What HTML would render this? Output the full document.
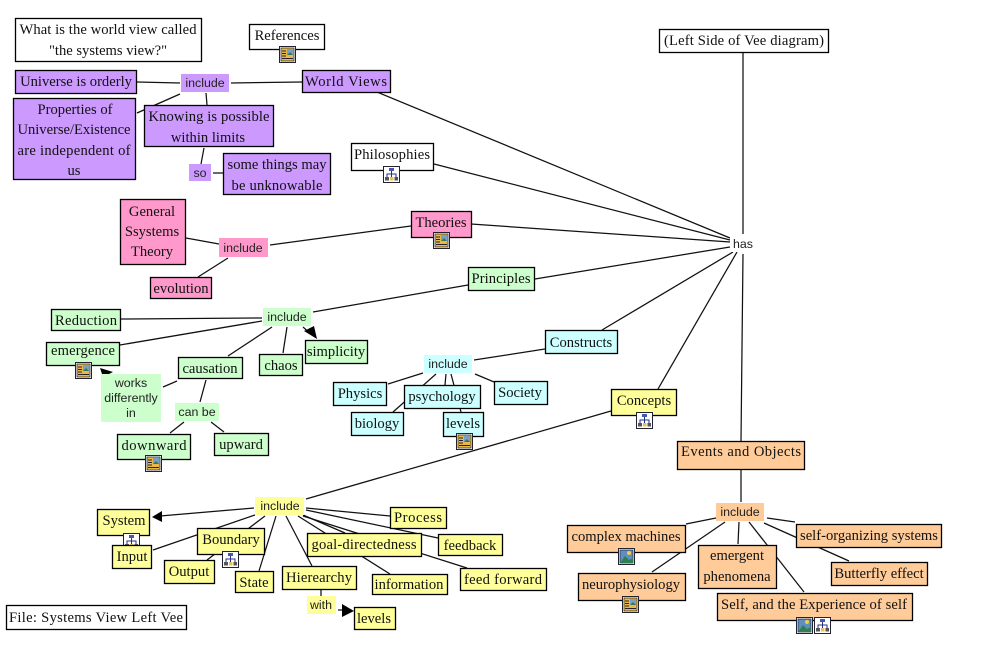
<!DOCTYPE html>
<html><head><meta charset="utf-8"><title>Systems View Left Vee</title>
<style>
html,body{margin:0;padding:0;background:#fff}
svg{display:block}
.l line{stroke:#111;stroke-width:1.25}
.n rect{stroke:#000;stroke-width:1.3}
.k rect{stroke:none}
text{font-family:"Liberation Serif",serif;font-size:14.6px;fill:#111;text-anchor:middle}
.s text{font-family:"Liberation Sans",sans-serif;font-size:12.4px;fill:#222}
.a polygon{fill:#000}
</style></head><body>
<svg width="982" height="670" viewBox="0 0 982 670" xmlns="http://www.w3.org/2000/svg">
<defs>
<g id="doc"><rect x=".5" y=".5" width="16" height="16" fill="#fff" stroke="#223"/><rect x="2" y="2" width="13" height="13" fill="#e8b848" stroke="#222" stroke-width=".7"/><rect x="8" y="3" width="6" height="6" fill="#7aa0c8"/><path d="M8 9l3-3 3 3z" fill="#3a7a50"/><path d="M3 5h4M3 7.500h4M3 10h4M3 12.500h11" stroke="#223" stroke-width="1"/></g>
<g id="pic"><rect x=".5" y=".5" width="16" height="16" fill="#fff" stroke="#223"/><rect x="2" y="2" width="13" height="13" fill="#5f8fc0" stroke="#223" stroke-width=".7"/><circle cx="11" cy="5" r="2" fill="#f0d040"/><path d="M2 15l5-7 4 4 4-2v5z" fill="#2f8050"/></g>
<g id="map"><rect x=".5" y=".5" width="16" height="16" fill="#fff" stroke="#223"/><path d="M8.500 5v3M4 12V8h9v4M8.500 8v4" stroke="#23308a" fill="none"/><rect x="6" y="2" width="5" height="3" fill="#4458b0"/><rect x="2" y="11" width="4" height="3.500" fill="#555"/><rect x="7" y="11" width="3.500" height="3.500" fill="#e8c050"/><rect x="11.500" y="11" width="3.500" height="3.500" fill="#555"/></g>
</defs>

<g class="l">
<line x1="137" y1="82" x2="180" y2="83"/><line x1="231" y1="83" x2="302" y2="82"/><line x1="180" y1="94" x2="137" y2="113"/><line x1="206" y1="93" x2="207" y2="105"/><line x1="204" y1="148" x2="201" y2="164"/><line x1="213" y1="173" x2="223" y2="173"/>
<line x1="377" y1="92" x2="730" y2="238"/><line x1="434" y1="164" x2="730" y2="240"/><line x1="471" y1="224" x2="730" y2="242"/><line x1="535" y1="279" x2="730" y2="247"/><line x1="602" y1="330" x2="733" y2="252"/><line x1="658" y1="389" x2="737" y2="252"/><line x1="741" y1="441" x2="743" y2="254"/><line x1="743" y1="53" x2="743" y2="234"/>
<line x1="411" y1="226" x2="270" y2="245"/><line x1="186" y1="238" x2="219" y2="244"/><line x1="228" y1="258" x2="198" y2="277"/>
<line x1="468" y1="285" x2="313" y2="312"/><line x1="262" y1="318" x2="121" y2="319"/><line x1="262" y1="321" x2="120" y2="345"/><line x1="272" y1="327" x2="228" y2="356"/><line x1="287" y1="327" x2="283" y2="353"/><line x1="303" y1="327" x2="312" y2="335"/>
<line x1="177" y1="381" x2="163" y2="387"/><line x1="206" y1="380" x2="200" y2="402"/><line x1="184" y1="422" x2="170" y2="433"/><line x1="211" y1="422" x2="224" y2="432"/>
<line x1="545" y1="349" x2="474" y2="360"/><line x1="423" y1="373" x2="388" y2="384"/><line x1="436" y1="374" x2="393" y2="412"/><line x1="446" y1="374" x2="445" y2="385"/><line x1="451" y1="374" x2="461" y2="412"/><line x1="475" y1="374" x2="494" y2="382"/>
<line x1="611" y1="411" x2="306" y2="499"/><line x1="254" y1="508" x2="160" y2="516"/><line x1="255" y1="515" x2="153" y2="550"/><line x1="265" y1="516" x2="207" y2="560"/><line x1="276" y1="516" x2="259" y2="571"/><line x1="286" y1="516" x2="312" y2="566"/><line x1="303" y1="515" x2="345" y2="533"/><line x1="298" y1="516" x2="390" y2="574"/><line x1="303" y1="516" x2="467" y2="568"/><line x1="306" y1="510" x2="438" y2="538"/><line x1="306" y1="508" x2="390" y2="516"/><line x1="321" y1="590" x2="321" y2="596"/><line x1="338" y1="610" x2="344" y2="610"/>
<line x1="741" y1="469" x2="741" y2="502"/><line x1="716" y1="518" x2="686" y2="524"/><line x1="725" y1="522" x2="652" y2="572"/><line x1="739" y1="522" x2="738" y2="544"/><line x1="749" y1="522" x2="804" y2="592"/><line x1="767" y1="518" x2="795" y2="522"/><line x1="764" y1="523" x2="849" y2="561"/>
</g>

<g class="a">
<polygon points="317,339 304,331 314,326"/>
<polygon points="100,368 113,372 103,377"/>
<polygon points="152,517 162,511 162,522"/>
<polygon points="354,611 342,604 342,617"/>
</g>

<g class="n">
<rect x="15.500" y="18.500" width="186" height="43" fill="#fff"/>
<rect x="249.500" y="24.500" width="75" height="25" fill="#fff"/><use href="#doc" x="279" y="46"/>
<rect x="659.500" y="29.500" width="169" height="23" fill="#fff"/>
<rect x="351.500" y="143.500" width="82" height="27" fill="#fff"/><use href="#map" x="383" y="166"/>
<rect x="6.500" y="605.500" width="180" height="24" fill="#fff"/>

<g fill="#cc99ff">
<rect x="15.500" y="70.500" width="121" height="23"/>
<rect x="13.500" y="98.500" width="122" height="81"/>
<rect x="144.500" y="105.500" width="129" height="41"/>
<rect x="223.500" y="153.500" width="107" height="41"/>
<rect x="302.500" y="70.500" width="88" height="22"/>
</g>
<g fill="#ff99cc">
<rect x="120.500" y="199.500" width="65" height="65"/>
<rect x="411.500" y="211.500" width="60" height="26"/><use href="#doc" x="433" y="232"/>
<rect x="150.500" y="277.500" width="61" height="21"/>
</g>
<g fill="#ccffcc">
<rect x="468.500" y="267.500" width="66" height="23"/>
<rect x="51.500" y="309.500" width="69" height="21"/>
<rect x="46.500" y="342.500" width="73" height="23"/><use href="#doc" x="75" y="362"/>
<rect x="178.500" y="357.500" width="64" height="21"/>
<rect x="259.500" y="354.500" width="43" height="21"/>
<rect x="305.500" y="340.500" width="62" height="23"/>
<rect x="117.500" y="434.500" width="73" height="25"/><use href="#doc" x="145" y="455"/>
<rect x="214.500" y="433.500" width="54" height="22"/>
</g>
<g fill="#ccffff">
<rect x="545.500" y="330.500" width="72" height="23"/>
<rect x="333.500" y="382.500" width="53" height="23"/>
<rect x="404.500" y="385.500" width="76" height="23"/>
<rect x="494.500" y="381.500" width="53" height="23"/>
<rect x="351.500" y="412.500" width="52" height="23"/>
<rect x="443.500" y="412.500" width="40" height="24"/><use href="#doc" x="456" y="433"/>
</g>
<g fill="#ffff99">
<rect x="611.500" y="389.500" width="65" height="26"/><use href="#map" x="636" y="412"/>
<rect x="97.500" y="509.500" width="52" height="26"/><use href="#map" x="123" y="533"/>
<rect x="112.500" y="545.500" width="39" height="23"/>
<rect x="197.500" y="528.500" width="67" height="26"/><use href="#map" x="222" y="551"/>
<rect x="164.500" y="560.500" width="50" height="23"/>
<rect x="235.500" y="571.500" width="38" height="21"/>
<rect x="282.500" y="566.500" width="74" height="23"/>
<rect x="354.500" y="607.500" width="41" height="22"/>
<rect x="307.500" y="533.500" width="114" height="23"/>
<rect x="372.500" y="574.500" width="75" height="20"/>
<rect x="390.500" y="507.500" width="56" height="21"/>
<rect x="438.500" y="534.500" width="64" height="21"/>
<rect x="460.500" y="568.500" width="86" height="22"/>
</g>
<g fill="#ffcc99">
<rect x="677.500" y="441.500" width="127" height="28"/>
<rect x="567.500" y="525.500" width="118" height="27"/><use href="#pic" x="618" y="548"/>
<rect x="578.500" y="573.500" width="107" height="27"/><use href="#doc" x="622" y="596"/>
<rect x="698.500" y="545.500" width="78" height="43"/>
<rect x="796.500" y="524.500" width="145" height="23"/>
<rect x="831.500" y="562.500" width="96" height="23"/>
<rect x="717.500" y="593.500" width="195" height="27"/><use href="#pic" x="796" y="617"/><use href="#map" x="814" y="617"/>
</g>
</g>

<g class="k">
<rect x="181" y="74" width="48" height="18" fill="#cc99ff"/><rect x="189" y="164" width="22" height="17" fill="#cc99ff"/>
<rect x="219" y="238" width="49" height="19" fill="#ff99cc"/>
<rect x="263" y="308" width="48" height="18" fill="#ccffcc"/><rect x="101" y="374" width="60" height="48" fill="#ccffcc"/><rect x="175" y="403" width="44" height="18" fill="#ccffcc"/>
<rect x="424" y="355" width="48" height="18" fill="#ccffff"/>
<rect x="255" y="497" width="49" height="18" fill="#ffff99"/><rect x="307" y="596" width="29" height="18" fill="#ffff99"/>
<rect x="716" y="503" width="48" height="18" fill="#ffcc99"/>
<rect x="730" y="235" width="26" height="17" fill="#fff"/>
</g>

<g>
<text x="108" y="34" textLength="177">What is the world view called</text><text x="108" y="55">"the systems view?"</text>
<text x="287" y="40">References</text>
<text x="744" y="45" textLength="160">(Left Side of Vee diagram)</text>
<text x="392" y="159" textLength="76">Philosophies</text>
<text x="96" y="622" textLength="174">File: Systems View Left Vee</text>
<text x="76" y="86">Universe is orderly</text>
<text x="75" y="114">Properties of</text><text x="74" y="134" textLength="113">Universe/Existence</text><text x="74" y="155" textLength="113">are independent of</text><text x="74" y="175">us</text>
<text x="209" y="121" textLength="121">Knowing is possible</text><text x="208" y="142">within limits</text>
<text x="277" y="169" textLength="99">some things may</text><text x="277" y="190" textLength="91">be unknowable</text>
<text x="346" y="86" textLength="82">World Views</text>
<text x="152" y="216">General</text><text x="152" y="236">Ssystems</text><text x="152" y="256">Theory</text>
<text x="441" y="227">Theories</text>
<text x="181" y="293">evolution</text>
<text x="501" y="283" textLength="59">Principles</text>
<text x="86" y="325" textLength="62">Reduction</text>
<text x="83" y="355" textLength="64">emergence</text>
<text x="210" y="373">causation</text>
<text x="281" y="370">chaos</text>
<text x="336" y="356">simplicity</text>
<text x="154" y="450" textLength="65">downward</text>
<text x="241" y="449">upward</text>
<text x="581" y="347">Constructs</text>
<text x="360" y="398">Physics</text>
<text x="442" y="401">psychology</text>
<text x="520" y="397">Society</text>
<text x="377" y="428">biology</text>
<text x="463" y="428">levels</text>
<text x="644" y="405">Concepts</text>
<text x="741" y="456" textLength="120">Events and Objects</text>
<text x="124" y="525">System</text>
<text x="132" y="561">Input</text>
<text x="231" y="544">Boundary</text>
<text x="189" y="576">Output</text>
<text x="254" y="587">State</text>
<text x="319" y="582" textLength="66">Hierearchy</text>
<text x="374" y="623">levels</text>
<text x="364" y="549" textLength="105">goal-directedness</text>
<text x="409" y="589">information</text>
<text x="418" y="522" textLength="48">Process</text>
<text x="470" y="550">feedback</text>
<text x="503" y="584" textLength="78">feed forward</text>
<text x="626" y="541">complex machines</text>
<text x="631" y="589">neurophysiology</text>
<text x="737" y="560">emergent</text><text x="737" y="581">phenomena</text>
<text x="869" y="540">self-organizing systems</text>
<text x="879" y="578">Butterfly effect</text>
<text x="814" y="609" textLength="186">Self, and the Experience of self</text>
</g>
<g class="s">
<text x="205" y="87">include</text>
<text x="200" y="177">so</text>
<text x="243" y="252">include</text>
<text x="287" y="321">include</text>
<text x="131" y="387">works</text><text x="131" y="402">differently</text><text x="131" y="417">in</text>
<text x="197" y="416">can be</text>
<text x="448" y="368">include</text>
<text x="280" y="510">include</text>
<text x="321" y="609">with</text>
<text x="740" y="516">include</text>
<text x="743" y="248">has</text>
</g>
</svg>
</body></html>
